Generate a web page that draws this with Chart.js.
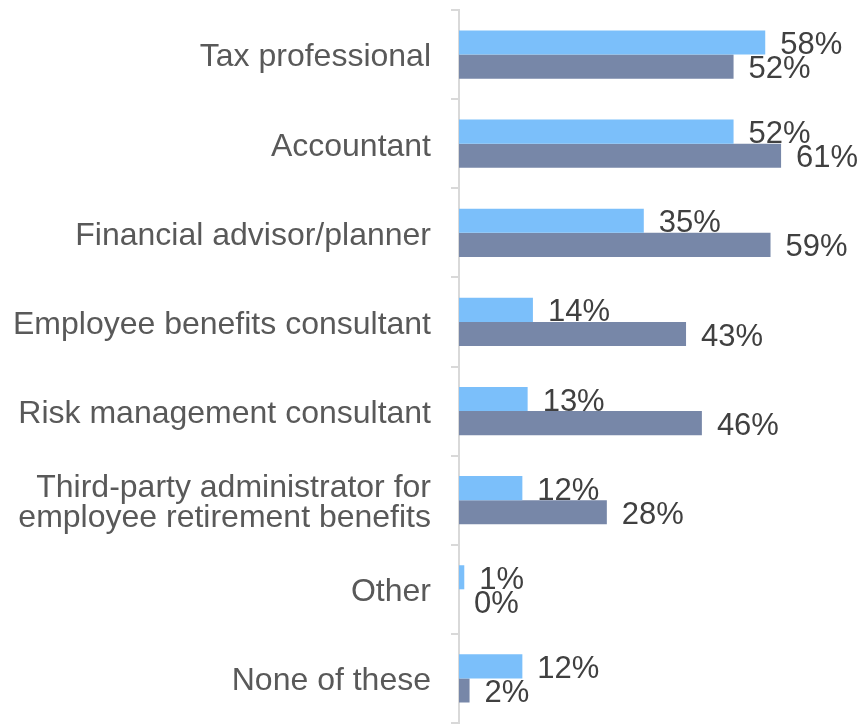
<!DOCTYPE html>
<html>
<head>
<meta charset="utf-8">
<script src="https://cdn.jsdelivr.net/npm/chart.js@4"></script>
<style>
  body { margin: 0; background: #fff; }
</style>
</head>
<body>
<canvas id="chart" width="861" height="724"></canvas>
<script>
const categories = [
    'Tax professional',
    'Accountant',
    'Financial advisor/planner',
    'Employee benefits consultant',
    'Risk management consultant',
    ['Third-party administrator for', 'employee retirement benefits'],
    'Other',
    'None of these'
];
const lightValues = [58, 52, 35, 14, 13, 12, 1, 12];
const darkValues = [52, 61, 59, 43, 46, 28, 0, 2];

// draws "xx%" next to each bar end
const valueLabels = {
    id: 'valueLabels',
    afterDatasetsDraw(chart) {
        const ctx = chart.ctx;
        ctx.save();
        ctx.font = '31px "Liberation Sans", Arial, sans-serif';
        ctx.fillStyle = '#404040';
        ctx.textAlign = 'left';
        ctx.textBaseline = 'middle';
        chart.data.datasets.forEach((ds, i) => {
            const meta = chart.getDatasetMeta(i);
            meta.data.forEach((bar, j) => {
                ctx.fillText(ds.data[j] + '%', bar.x + 15, bar.y + 3);
            });
        });
        ctx.restore();
    }
};

const ctx = document.getElementById('chart').getContext('2d');
new Chart(ctx, {
    type: 'bar',
    data: {
        labels: categories,
        datasets: [
            {
                label: 'Series 1',
                data: lightValues,
                backgroundColor: '#7bbffa',
                categoryPercentage: 0.54,
                barPercentage: 1.0
            },
            {
                label: 'Series 2',
                data: darkValues,
                backgroundColor: '#7787a8',
                categoryPercentage: 0.54,
                barPercentage: 1.0
            }
        ]
    },
    options: {
        indexAxis: 'y',
        responsive: false,
        animation: false,
        layout: {
            padding: { top: 10, right: 6, bottom: 1, left: 0 }
        },
        plugins: {
            legend: { display: false },
            tooltip: { enabled: false }
        },
        scales: {
            x: {
                display: false,
                min: 0,
                max: 75
            },
            y: {
                afterFit(scale) {
                    scale.width = 459;
                    scale.paddingTop = 0;
                    scale.paddingBottom = 0;
                },
                grid: {
                    drawOnChartArea: false,
                    color: '#d9d9d9',
                    lineWidth: 2,
                    tickLength: 8
                },
                border: {
                    color: '#d9d9d9',
                    width: 2
                },
                ticks: {
                    color: '#595959',
                    padding: 20,
                    labelOffset: 3,
                    font: {
                        family: '"Liberation Sans", Arial, sans-serif',
                        size: 32,
                        lineHeight: 0.96
                    }
                }
            }
        }
    },
    plugins: [valueLabels]
});
</script>
</body>
</html>
